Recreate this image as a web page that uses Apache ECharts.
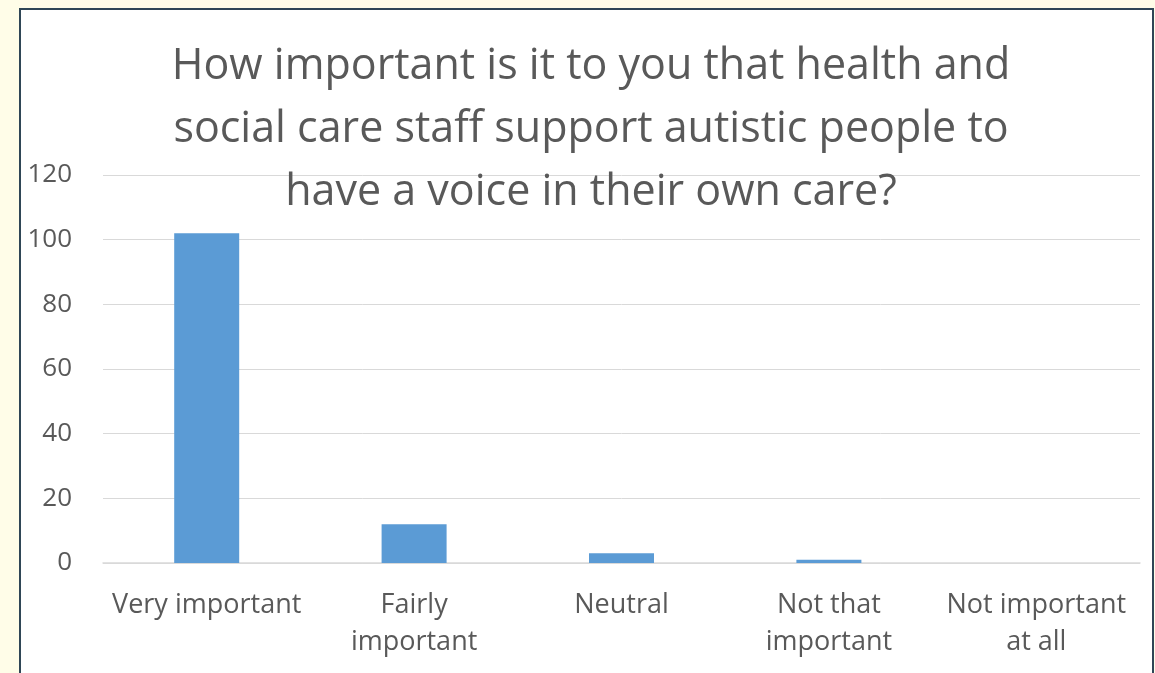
<!DOCTYPE html>
<html>
<head>
<meta charset="utf-8">
<script src="https://cdn.jsdelivr.net/npm/echarts@6/dist/echarts.min.js"></script>
<style>
  html, body { margin: 0; padding: 0; background: #fffde8; }
  #frame {
    position: absolute; left: 19px; top: 8px; width: 1131px; height: 665px;
    background: #ffffff; border: 2px solid #2f4656; border-bottom: none;
  }
  #chart { position: absolute; left: 0; top: 0; width: 1155px; height: 673px; }
</style>
</head>
<body>
<div id="frame"></div>
<div id="chart"></div>
<script>
  // 类别和数值
  var categories = ['Very important', 'Fairly\nimportant', 'Neutral', 'Not that\nimportant', 'Not important\nat all'];
  var values = [102, 12, 3, 1, 0];
  var yTicks = [0, 20, 40, 60, 80, 100, 120];

  var chart = echarts.init(document.getElementById('chart'), null, { renderer: 'canvas' });

  var option = {
    backgroundColor: 'transparent',
    title: {
      text: 'How important is it to you that health and\nsocial care staff support autistic people to\nhave a voice in their own care?',
      left: 586,
      textAlign: 'center',
      top: 30,
      textStyle: {
        fontFamily: 'Open Sans',
        fontWeight: 'normal',
        fontSize: 43,
        lineHeight: 63,
        color: '#595959'
      }
    },
    grid: { left: 103, right: 15, top: 175, bottom: 110 },
    xAxis: {
      type: 'category',
      data: categories,
      axisTick: { show: false },
      axisLine: { lineStyle: { color: '#d9d9d9', width: 1.5 } },
      axisLabel: {
        interval: 0,
        color: '#595959',
        fontFamily: 'Open Sans',
        fontSize: 27,
        lineHeight: 37,
        margin: 24
      }
    },
    yAxis: {
      type: 'value',
      min: yTicks[0],
      max: yTicks[yTicks.length - 1],
      interval: 20,
      axisLine: { show: false },
      axisTick: { show: false },
      splitLine: { lineStyle: { color: '#d9d9d9', width: 1 } },
      axisLabel: {
        color: '#595959',
        fontFamily: 'Open Sans',
        fontSize: 26,
        margin: 31
      }
    },
    series: [{
      type: 'bar',
      data: values,
      barWidth: 65,
      itemStyle: { color: '#5b9bd5' },
      z: 1
    }]
  };

  chart.setOption(option);
</script>
</body>
</html>
